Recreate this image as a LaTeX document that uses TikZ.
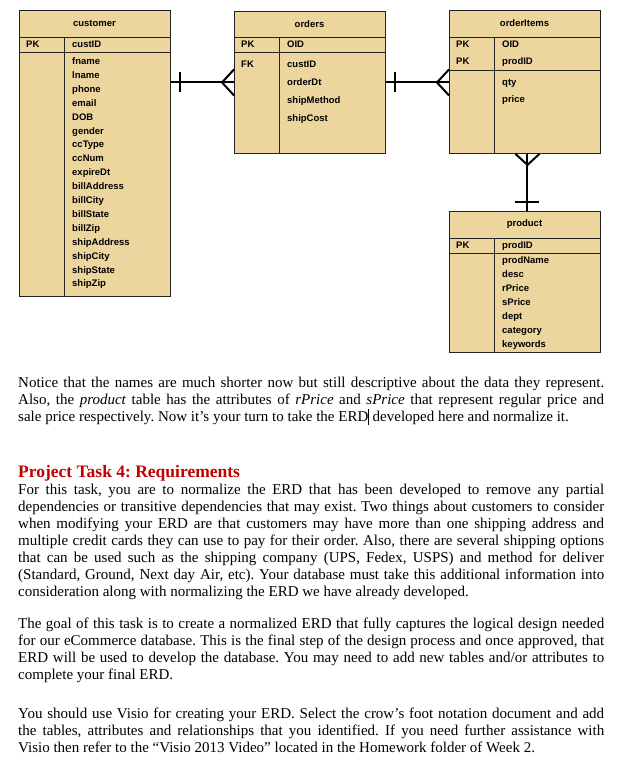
\documentclass[tikz,border=0pt]{standalone}
\usepackage{fontspec}
\setmainfont{Liberation Serif}
\setsansfont{Liberation Sans}
\usetikzlibrary{calc}
\definecolor{tablecol}{RGB}{237,213,158}
\definecolor{edgecol}{RGB}{35,35,35}
\definecolor{headcol}{RGB}{192,0,0}
\frenchspacing

\begin{document}
\begin{tikzpicture}[x=1pt,y=-1pt,
   tbl/.style={draw=edgecol,fill=tablecol,anchor=north west,minimum width=151pt,inner sep=0pt,line width=0.9pt},
   sep/.style={draw=edgecol,line width=0.9pt},
   ttl/.style={font=\sffamily\bfseries\fontsize{9.5}{10}\selectfont,inner sep=0pt},
   attr/.style={font=\sffamily\bfseries\fontsize{9.5}{10}\selectfont,anchor=west,inner sep=0pt,
                text height=7pt,text depth=2pt},
   rel/.style={line width=2pt,black},
   para/.style={anchor=base west,text width=586pt,align=justify,inner sep=0pt,
                font=\fontsize{15}{17}\selectfont}]
  \useasboundingbox (0,0) rectangle (624,768);
  % ---------- customer table ----------
  \begin{scope}[shift={(19,10)}]
    \node[tbl,minimum height=286pt] (customer) at (0,0) {};
    \node[ttl] (customer-t) at (75.5,13.5) {customer};
    \draw[sep] (0,27) -- (151,27) (0,42) -- (151,42) (45,27) -- (45,286);
    \node[attr] (customer-pk) at (7,35) {PK};
    \node[attr] (customer-id) at (53,35) {custID};
    \foreach \a [count=\i] in {fname,lname,phone,email,DOB,gender,ccType,ccNum,expireDt,
        billAddress,billCity,billState,billZip,shipAddress,shipCity,shipState,shipZip}
      {\node[attr] (customer-\i) at (53,38.1+13.9*\i) {\a};}
  \end{scope}
  % ---------- orders table ----------
  \begin{scope}[shift={(234,11)}]
    \node[tbl,minimum height=142pt] (orders) at (0,0) {};
    \node[ttl] (orders-t) at (75.5,13) {orders};
    \draw[sep] (0,26) -- (151,26) (0,41) -- (151,41) (45,26) -- (45,142);
    \node[attr] (orders-pk) at (7,34) {PK};
    \node[attr] (orders-id) at (53,34) {OID};
    \node[attr] (orders-fk) at (7,54) {FK};
    \foreach \a [count=\i] in {custID,orderDt,shipMethod,shipCost}
      {\node[attr] (orders-\i) at (53,36+18*\i) {\a};}
  \end{scope}
  % ---------- orderItems table ----------
  \begin{scope}[shift={(449,10)}]
    \node[tbl,minimum height=143pt] (items) at (0,0) {};
    \node[ttl] (items-t) at (75.5,13.5) {orderItems};
    \draw[sep] (0,27) -- (151,27) (0,60) -- (151,60) (45,27) -- (45,143);
    \node[attr] (items-pk1) at (7,35) {PK};
    \node[attr] (items-id1) at (53,35) {OID};
    \node[attr] (items-pk2) at (7,52) {PK};
    \node[attr] (items-id2) at (53,52) {prodID};
    \foreach \a [count=\i] in {qty,price}
      {\node[attr] (items-\i) at (53,56+17*\i) {\a};}
  \end{scope}
  % ---------- product table ----------
  \begin{scope}[shift={(449,211)}]
    \node[tbl,minimum height=141pt] (product) at (0,0) {};
    \node[ttl] (product-t) at (75.5,13.5) {product};
    \draw[sep] (0,27) -- (151,27) (0,42) -- (151,42) (45,27) -- (45,141);
    \node[attr] (product-pk) at (7,35) {PK};
    \node[attr] (product-id) at (53,35) {prodID};
    \foreach \a [count=\i] in {prodName,desc,rPrice,sPrice,dept,category,keywords}
      {\node[attr] (product-\i) at (53,36+14*\i) {\a};}
  \end{scope}
  % ---------- relationships (crow's foot) ----------
  \coordinate (co-a) at (customer.east |- orders.west);
  \draw[rel] (co-a) -- (orders.west);
  \draw[rel] ($(co-a)+(9,-10)$) -- ++(0,20);
  \draw[rel] ($(orders.west)+(0,-13)$) -- ($(orders.west)+(-12,0)$) -- ($(orders.west)+(0,13)$);
  \coordinate (oi-b) at (items.west |- orders.east);
  \draw[rel] (orders.east) -- (oi-b);
  \draw[rel] ($(orders.east)+(9,-10)$) -- ++(0,20);
  \draw[rel] ($(oi-b)+(0,-13)$) -- ($(oi-b)+(-12,0)$) -- ($(oi-b)+(0,13)$);
  \coordinate (ip-a) at ($(items.south)+(2.5,0)$);
  \coordinate (ip-b) at (ip-a |- product.north);
  \draw[rel] (ip-a) -- (ip-b);
  \draw[rel] ($(ip-a)+(-12,0)$) -- ($(ip-a)+(0,11)$) -- ($(ip-a)+(12,0)$);
  \draw[rel] ($(ip-b)+(-12,-9)$) -- ++(24,0);
  % ---------- text below the diagram ----------
  \node[para] (notice) at (18,387) {Notice that the names are much shorter now but still
    descriptive about the data they represent.\linebreak Also, the \textit{product} table has
    the attributes of \textit{rPrice} and \textit{sPrice} that represent regular price and\linebreak
    sale price respectively. Now it's your turn to take the ERD\rule[-4pt]{0.6pt}{16pt} developed
    here and normalize it.};
  \node[anchor=base west,inner sep=0pt,text=headcol,font=\bfseries\fontsize{17.5}{20}\selectfont]
    (task) at (18,477) {Project Task 4: Requirements};
  \node[para] (req) at (18,494) {For this task, you are to normalize the ERD that has been
    developed to remove any partial\linebreak dependencies or transitive dependencies that may
    exist. Two things about customers to consider\linebreak when modifying your ERD are that
    customers may have more than one shipping address and\linebreak multiple credit cards they
    can use to pay for their order. Also, there are several shipping options\linebreak that can
    be used such as the shipping company (UPS, Fedex, USPS) and method for deliver\linebreak
    (Standard, Ground, Next day Air, etc). Your database must take this additional information
    into\linebreak consideration along with normalizing the ERD we have already developed.};
  \node[para] (goal) at (18,628.5) {The goal of this task is to create a normalized ERD that
    fully captures the logical design needed\linebreak for our eCommerce database. This is the
    final step of the design process and once approved, that\linebreak ERD will be used to
    develop the database. You may need to add new tables and/or attributes to\linebreak
    complete your final ERD.};
  \node[para] (visio) at (18,718.5) {You should use Visio for creating your ERD. Select the
    crow's foot notation document and add\linebreak the tables, attributes and relationships
    that you identified. If you need further assistance with\linebreak Visio then refer to the
    ``Visio 2013 Video'' located in the Homework folder of Week 2.};
\end{tikzpicture}
\end{document}
